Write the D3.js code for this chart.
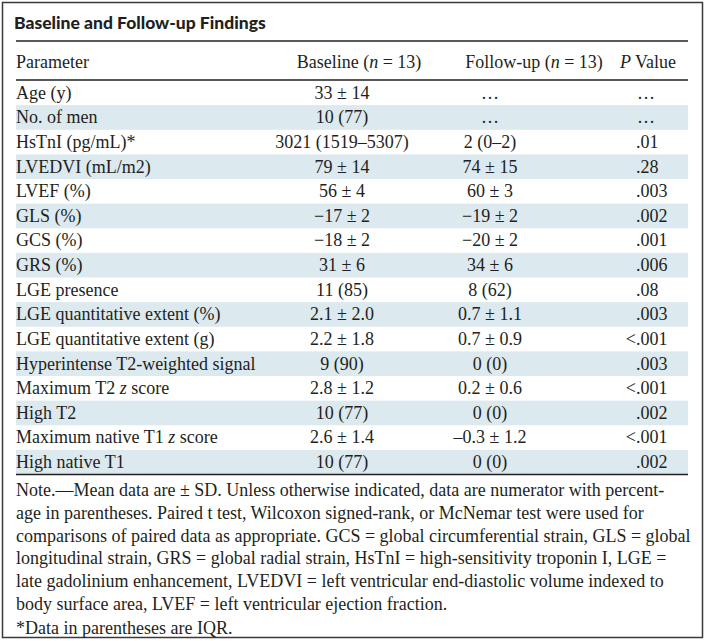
<!DOCTYPE html>
<html>
<head>
<meta charset="utf-8">
<script src="https://cdn.jsdelivr.net/npm/d3@7"></script>
<style>
  body { margin: 0; background: #fff; }
  svg { display: block; }
</style>
</head>
<body>
<div id="chart"></div>
<script>
// table content
var title = "Baseline and Follow-up Findings";
var headers = ["Parameter", "Baseline (_n_ = 13)", "Follow-up (_n_ = 13)", "_P_ Value"];
var params = [
    "Age (y)", "No. of men", "HsTnI (pg/mL)*", "LVEDVI (mL/m2)", "LVEF (%)",
    "GLS (%)", "GCS (%)", "GRS (%)", "LGE presence", "LGE quantitative extent (%)",
    "LGE quantitative extent (g)", "Hyperintense T2-weighted signal", "Maximum T2 _z_ score",
    "High T2", "Maximum native T1 _z_ score", "High native T1"
];
var baseline = [
    "33 ± 14", "10 (77)", "3021 (1519–5307)", "79 ± 14", "56 ± 4",
    "−17 ± 2", "−18 ± 2", "31 ± 6", "11 (85)", "2.1 ± 2.0",
    "2.2 ± 1.8", "9 (90)", "2.8 ± 1.2", "10 (77)", "2.6 ± 1.4", "10 (77)"
];
var followup = [
    "…", "…", "2 (0–2)", "74 ± 15", "60 ± 3",
    "−19 ± 2", "−20 ± 2", "34 ± 6", "8 (62)", "0.7 ± 1.1",
    "0.7 ± 0.9", "0 (0)", "0.2 ± 0.6", "0 (0)", "–0.3 ± 1.2", "0 (0)"
];
var pValues = [
    "…", "…", ".01", ".28", ".003",
    ".002", ".001", ".006", ".08", ".003",
    "<.001", ".003", "<.001", ".002", "<.001", ".002"
];
var noteLines = [
    "Note.—Mean data are ± SD. Unless otherwise indicated, data are numerator with percent-",
    "age in parentheses. Paired t test, Wilcoxon signed-rank, or McNemar test were used for",
    "comparisons of paired data as appropriate. GCS = global circumferential strain, GLS = global",
    "longitudinal strain, GRS = global radial strain, HsTnI = high-sensitivity troponin I, LGE =",
    "late gadolinium enhancement, LVEDVI = left ventricular end-diastolic volume indexed to",
    "body surface area, LVEF = left ventricular ejection fraction."
];
var footnote = "*Data in parentheses are IQR.";

var width = 706, height = 641;
var left = 16, right = 688;
var serif = "'Liberation Serif', 'Times New Roman', serif";

var svg = d3.select("#chart").append("svg")
    .attr("width", width)
    .attr("height", height);

// outer frame
svg.append("rect")
    .attr("x", 2.5).attr("y", 2.5)
    .attr("width", 700).attr("height", 635)
    .attr("fill", "none")
    .attr("stroke", "#3a3a3a")
    .attr("stroke-width", 1.5);

svg.append("text")
    .attr("x", 14).attr("y", 29)
    .attr("font-family", "Lato, 'Open Sans', sans-serif")
    .attr("font-weight", 900)
    .attr("font-size", 17.5)
    .attr("fill", "#231f20")
    .text(title);

// rows
var y = d3.scaleBand()
    .domain(d3.range(params.length))
    .range([80.5, 474.5]);

// column anchors
var x = d3.scaleOrdinal()
    .domain(["param", "base", "follow", "p"])
    .range([left, 342, 490, 636]);

svg.selectAll("rect.stripe")
    .data(d3.range(params.length).filter(function(i) { return i % 2 === 1; }))
    .enter()
    .append("rect")
    .attr("class", "stripe")
    .attr("x", left)
    .attr("y", function(i) { return y(i); })
    .attr("width", right - left)
    .attr("height", y.bandwidth())
    .attr("fill", "#dce9ee");

// rules
[41, 80, 474.5].forEach(function(yy) {
    svg.append("line")
        .attr("x1", left).attr("x2", right)
        .attr("y1", yy).attr("y2", yy)
        .attr("stroke", "#231f20")
        .attr("stroke-width", 1.6);
});

// writes text with _italic_ parts as tspans
function rich(sel, str) {
    str.split("_").forEach(function(part, k) {
        if (!part) return;
        sel.append("tspan")
            .attr("font-style", k % 2 ? "italic" : null)
            .text(part);
    });
}

var fs = 18;

var head = svg.append("g")
    .attr("font-family", serif)
    .attr("font-size", fs)
    .attr("fill", "#231f20");

var headAnchor = ["start", "middle", "middle", "middle"];
var headX = [left, 359, 534, 648];
headers.forEach(function(h, i) {
    var t = head.append("text")
        .attr("x", headX[i])
        .attr("y", 68)
        .attr("text-anchor", headAnchor[i]);
    rich(t, h);
});

var body = svg.append("g")
    .attr("font-family", serif)
    .attr("font-size", fs)
    .attr("fill", "#231f20");

var row = body.selectAll("g.row")
    .data(params.map(function(p, i) {
        return {param: p, base: baseline[i], follow: followup[i], p: pValues[i], i: i};
    }))
    .enter()
    .append("g")
    .attr("class", "row")
    .attr("transform", function(d) {
        return "translate(0," + (y(d.i) + y.bandwidth() - 6.5) + ")";
    });

row.append("text")
    .attr("x", x("param"))
    .each(function(d) { rich(d3.select(this), d.param); });

row.append("text")
    .attr("x", x("base"))
    .attr("text-anchor", "middle")
    .text(function(d) { return d.base; });

row.append("text")
    .attr("x", x("follow"))
    .attr("text-anchor", "middle")
    .text(function(d) { return d.follow; });

// p values lined up on the decimal point
row.append("text")
    .attr("x", x("p"))
    .attr("text-anchor", function(d) { return d.p === "…" ? "middle" : "start"; })
    .attr("dx", function(d) { return d.p === "…" ? 10 : 0; })
    .text(function(d) { return d.p.replace("<", ""); });

row.filter(function(d) { return d.p.charAt(0) === "<"; })
    .append("text")
    .attr("x", x("p"))
    .attr("text-anchor", "end")
    .text("<");

var note = svg.append("g")
    .attr("font-family", serif)
    .attr("font-size", fs)
    .attr("fill", "#231f20");

note.selectAll("text")
    .data(noteLines.concat([footnote]))
    .enter()
    .append("text")
    .attr("x", left)
    .attr("y", function(d, i) { return 496 + i * 22.8 + (i === noteLines.length ? 1.5 : 0); })
    .text(function(d) { return d; });
</script>
</body>
</html>
